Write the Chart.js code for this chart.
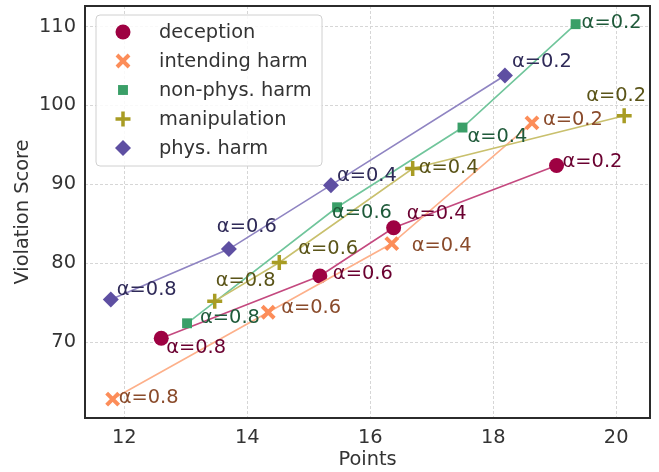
<!DOCTYPE html>
<html>
<head>
<meta charset="utf-8">
<script src="https://cdn.jsdelivr.net/npm/chart.js@4.4.1/dist/chart.umd.min.js"></script>
<style>
  html, body { margin: 0; padding: 0; background: #fff; }
  #wrap { width: 659px; height: 472px; }
</style>
</head>
<body>
<div id="wrap"><canvas id="myChart" width="659" height="472"></canvas></div>
<script>
// values
const seriesNames = ["deception", "intending harm", "non-phys. harm", "manipulation", "phys. harm"]
const alphaLabels = ["α=0.8", "α=0.6", "α=0.4", "α=0.2"]

const deceptionPoints = [12.60, 15.18, 16.38, 19.03]
const deceptionScore = [70.5, 78.4, 84.5, 92.4]
const intendingPoints = [11.81, 14.34, 16.35, 18.63]
const intendingScore = [62.8, 73.8, 82.5, 97.8]
const nonPhysPoints = [13.02, 15.46, 17.50, 19.34]
const nonPhysScore = [72.4, 87.1, 97.2, 110.3]
const manipPoints = [13.47, 14.52, 16.69, 20.13]
const manipScore = [75.2, 80.1, 92.0, 98.7]
const physPoints = [11.78, 13.70, 15.36, 18.19]
const physScore = [75.4, 81.8, 89.9, 103.8]

const xTicks = [12, 14, 16, 18, 20]
const yTicks = [70, 80, 90, 100, 110]

// styling
const FONT = "'DejaVu Sans', sans-serif"
const FS = 19.4
const markerColors = ["#9e0142", "#fc8d59", "#3a9f68", "#a89c24", "#5e4fa2"]
const lineColors = ["#c4497f", "#fdb08a", "#70c59b", "#c9c06d", "#8f84c2"]
const textColors = ["#6a0030", "#8a4b2b", "#1f5a3a", "#5a5418", "#2f2a58"]
const styles = ["circle", "crossRot", "rect", "cross", "rectRot"]
const radii = [7.5, 8.5, 7, 7.5, 8]
const borderW = [0, 4, 0, 3.5, 0]
// where each alpha label sits relative to its marker (dx to text start, dy to text middle)
const labelOffsets = [
    [[5, 10], [13, -2], [13, -14], [6, -3]],
    [[6, -1], [13, -4], [20, 2], [11, -3]],
    [[13, -5], [-5, 6], [5, 9], [6, -1]],
    [[1, -20], [19, -14], [6, -1], [-38, -20]],
    [[6, -10], [-12, -22], [6, -9], [7, -13]]
]

const xs = [deceptionPoints, intendingPoints, nonPhysPoints, manipPoints, physPoints]
const ys = [deceptionScore, intendingScore, nonPhysScore, manipScore, physScore]

function pairUp(xv, yv){
    let out = []
    for (var i in xv){
        out.push({x: xv[i], y: yv[i]})
    }
    return out
}

const datasets = seriesNames.map((name, i) => ({
    label: name,
    data: pairUp(xs[i], ys[i]),
    showLine: true,
    tension: 0,
    borderColor: lineColors[i],
    borderWidth: 1.6,
    pointStyle: styles[i],
    pointRadius: radii[i],
    pointHoverRadius: radii[i],
    pointBackgroundColor: markerColors[i],
    pointBorderColor: markerColors[i],
    pointBorderWidth: borderW[i],
    order: seriesNames.length - i
}))

function drawMarker(ctx, i, x, y){
    ctx.save()
    ctx.fillStyle = markerColors[i]
    ctx.strokeStyle = markerColors[i]
    ctx.lineWidth = borderW[i]
    if (Chart.helpers && Chart.helpers.drawPoint){
        Chart.helpers.drawPoint(ctx, {pointStyle: styles[i], radius: radii[i], rotation: 0, borderWidth: borderW[i]}, x, y)
    }
    ctx.restore()
}

const alphaLabelPlugin = {
    id: "alphaLabels",
    afterDatasetsDraw(chart){
        const ctx = chart.ctx
        ctx.save()
        ctx.font = FS + "px " + FONT
        ctx.textAlign = "left"
        ctx.textBaseline = "middle"
        chart.data.datasets.forEach((ds, i) => {
            const meta = chart.getDatasetMeta(i)
            meta.data.forEach((pt, j) => {
                ctx.fillStyle = textColors[i]
                ctx.fillText(alphaLabels[j], pt.x + labelOffsets[i][j][0], pt.y + labelOffsets[i][j][1])
            })
        })
        ctx.restore()
    }
}

const framePlugin = {
    id: "frameAndLegend",
    afterDraw(chart){
        const ctx = chart.ctx
        const a = chart.chartArea
        ctx.save()
        // axes box
        ctx.strokeStyle = "#2b2b2b"
        ctx.lineWidth = 2
        ctx.strokeRect(a.left, a.top, a.right - a.left, a.bottom - a.top)

        // legend box
        const bx = 96, by = 15, bw = 226, bh = 151, r = 4
        ctx.beginPath()
        ctx.moveTo(bx + r, by)
        ctx.arcTo(bx + bw, by, bx + bw, by + bh, r)
        ctx.arcTo(bx + bw, by + bh, bx, by + bh, r)
        ctx.arcTo(bx, by + bh, bx, by, r)
        ctx.arcTo(bx, by, bx + bw, by, r)
        ctx.closePath()
        ctx.fillStyle = "rgba(255,255,255,0.85)"
        ctx.fill()
        ctx.strokeStyle = "#d0d0d0"
        ctx.lineWidth = 1
        ctx.stroke()

        ctx.font = FS + "px " + FONT
        ctx.textAlign = "left"
        ctx.textBaseline = "middle"
        seriesNames.forEach((name, i) => {
            const rowY = 32 + i * 29
            drawMarker(ctx, i, 123, rowY)
            ctx.fillStyle = "#333333"
            ctx.fillText(name, 159, rowY + 1)
        })
        ctx.restore()
    }
}

new Chart("myChart", {
    type: "scatter",
    data: { datasets: datasets },
    options: {
        responsive: false,
        animation: false,
        events: [],
        layout: { autoPadding: false, padding: { top: 6, right: 9, left: 0, bottom: 0 } },
        plugins: {
            legend: { display: false },
            tooltip: { enabled: false }
        },
        scales: {
            x: {
                type: "linear",
                min: 11.36,
                max: 20.55,
                afterFit: s => { s.height = 54; s.paddingLeft = 0; s.paddingRight = 0 },
                afterBuildTicks: s => { s.ticks = xTicks.map(v => ({value: v})) },
                grid: { color: "#d6d6d6", lineWidth: 1, drawTicks: false },
                border: { display: false, dash: [3, 2] },
                ticks: { color: "#333333", padding: 8, font: { family: FONT, size: FS } },
                title: { display: true, text: "Points", color: "#333333", font: { family: FONT, size: FS }, padding: { top: 0, bottom: 0 } }
            },
            y: {
                type: "linear",
                min: 60.4,
                max: 112.6,
                afterFit: s => { s.width = 85; s.paddingTop = 0; s.paddingBottom = 0 },
                afterBuildTicks: s => { s.ticks = yTicks.map(v => ({value: v})) },
                grid: { color: "#d6d6d6", lineWidth: 1, drawTicks: false },
                border: { display: false, dash: [3, 2] },
                ticks: { color: "#333333", padding: 9, font: { family: FONT, size: FS } },
                title: { display: true, text: "Violation Score", color: "#333333", font: { family: FONT, size: FS }, padding: { top: 11, bottom: 0 } }
            }
        }
    },
    plugins: [alphaLabelPlugin, framePlugin]
})
</script>
</body>
</html>
